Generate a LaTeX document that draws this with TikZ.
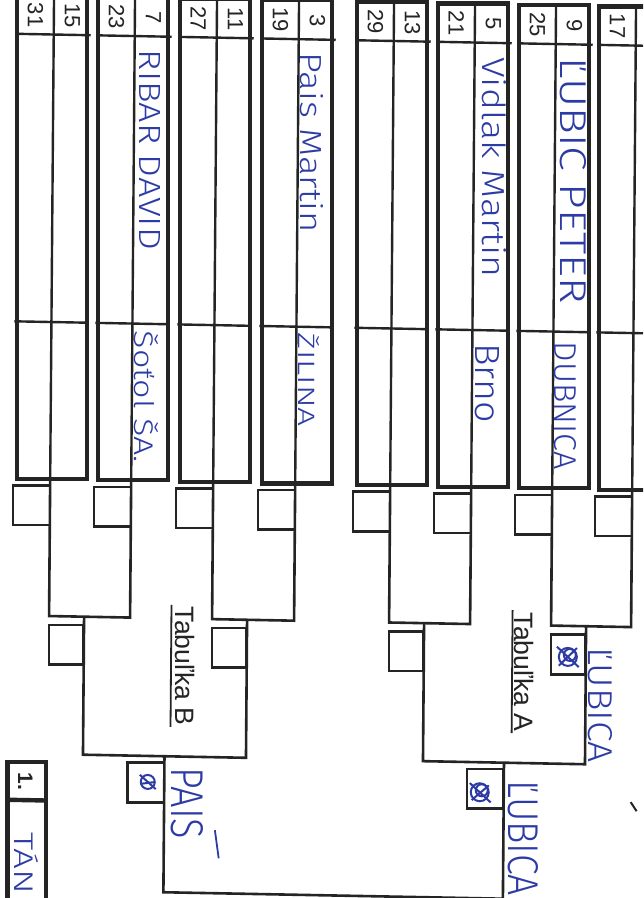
\documentclass[tikz,border=0pt]{standalone}
\usepackage{fontspec}
\setmainfont{Liberation Sans}
\newfontfamily\handfont{Fira Sans}[UprightFont={* Light}]
\usepackage{graphicx}
\definecolor{ink}{RGB}{36,36,36}
\definecolor{pen}{RGB}{45,60,165}
\newcommand\hw[3]{\resizebox{#1}{#2}{\handfont #3}}
\tikzset{
  thickframe/.style={draw=ink, line width=2.2pt},
  thinline/.style={draw=ink, line width=1.2pt},
  bracket/.style={draw=ink, line width=1.3pt, line join=miter},
  scorebox/.style={draw=ink, line width=1.3pt},
  seednum/.style={rotate=-90, font=\fontsize{11}{11}\selectfont, text=ink, inner sep=0pt},
  hand/.style={rotate=-90, text=pen, inner sep=0pt},
  tablabel/.style={rotate=-90, font=\fontsize{13.3}{14}\selectfont, text=ink, inner sep=0pt},
  scribble/.style={draw=pen, line width=1pt},
}
% #1 left x, #2 left seed, #3 right seed, #4 id
\newcommand\grp[4]{%
  \draw[thickframe] (#1,-5) rectangle ({#1+74},477);
  \draw[thinline] ({#1+37},-5) -- ({#1+37},477);
  \draw[thinline] (#1,33.5) -- ({#1+74},33.5);
  \draw[thinline] (#1,321) -- ({#1+74},321);
  \node[seednum] (n#4a) at ({#1+18.5},14.5) {#2};
  \node[seednum] (n#4b) at ({#1+55.5},14.5) {#3};
  \draw[scorebox] (#1,485) rectangle ({#1+37},524);
  \coordinate (m#4) at ({#1+37},477);
}
\begin{document}
\begin{tikzpicture}[x={(0.5pt,-0.0095pt)}, y={(-0.004pt,-0.5pt)}]
\useasboundingbox (0pt,0pt) rectangle (321.5pt,-449pt);
\clip (0pt,0pt) rectangle (321.5pt,-449pt);
\fill[white] (0pt,0pt) rectangle (321.5pt,-449pt);

% player groups
\grp{17}{31}{15}{1}
\grp{98}{23}{7}{2}
\grp{180}{27}{11}{3}
\grp{262}{19}{3}{4}
\grp{357}{29}{13}{5}
\grp{438}{21}{5}{6}
\grp{519}{25}{9}{7}
\grp{599}{17}{}{8}

% round 1 brackets
\draw[bracket] (m1) -- (54,615) -- (135,615) -- (m2);
\draw[bracket] (m3) -- (217,615) -- (299,615) -- (m4);
\draw[bracket] (m5) -- (394,615) -- (475,615) -- (m6);
\draw[bracket] (m7) -- (556,615) -- (636,615) -- (m8);

% round 2 boxes
\draw[scorebox] (54,624) rectangle (89,663);
\draw[scorebox] (217,624) rectangle (252,663);
\draw[scorebox] (394,624) rectangle (429,663);
\draw[scorebox] (556,624) rectangle (591,663);

% round 2 brackets
\coordinate (r2a) at (89,615);
\coordinate (r2b) at (252,615);
\coordinate (r2c) at (429,615);
\coordinate (r2d) at (591,615);
\draw[bracket] (r2a) -- (89,753) -- (252,753) -- (r2b);
\draw[bracket] (r2c) -- (429,753) -- (591,753) -- (r2d);

% round 3 boxes
\draw[scorebox] (133.5,760) rectangle (170.5,799);
\draw[scorebox] (473,760) rectangle (510,799);

% final bracket
\coordinate (r3a) at (170.5,753);
\coordinate (r3b) at (510,753);
\draw[bracket] (r3a) -- (170.5,889) -- (510,889) -- (r3b);

% labels
\node[tablabel] (tabB) at (190.3,662.5) {Tabuľka B};
\node[tablabel] (tabA) at (529.4,662) {Tabuľka A};
\draw[ink, line width=0.9pt] (176.3,601.5) -- (176.3,723.5);
\draw[ink, line width=0.9pt] (517.4,600.3) -- (517.4,723.3);

% final result box
\draw[thickframe] (13.5,761.5) rectangle (53.5,960);
\draw[thickframe] (13.5,799.5) -- (53.5,799.5);
\node[rotate=-90, font=\bfseries\fontsize{10.5}{11}\selectfont, text=ink, inner sep=0pt] (first) at (31.5,781) {1.};

% handwriting
\node[hand] (h7) at (151,147) {\hw{100pt}{10.5pt}{RIBAR DAVID}};
\node[hand] (c7) at (149,394) {\hw{66pt}{12pt}{Šoťol ŠA.}};
\node[hand] (h3) at (313,137) {\hw{90pt}{11.5pt}{Pais Martin}};
\node[hand] (c3) at (312,374) {\hw{47pt}{10.5pt}{ŽILINA}};
\node[hand] (h5) at (496,158) {\hw{110pt}{12pt}{Vidlak Martin}};
\node[hand] (c5) at (490,374) {\hw{40pt}{12pt}{Brno}};
\node[hand] (h9) at (574.5,170) {\hw{123pt}{13pt}{ĽUBIC PETER}};
\node[hand] (c9) at (568,395) {\hw{64pt}{11pt}{DUBNICA}};
\node[hand] (wB) at (194,799.5) {\hw{36pt}{16pt}{PAIS}};
\draw[draw=pen, line width=0.9pt] (221.5,826) -- (225.5,854);
\node[hand] (wA1) at (606,693.5) {\hw{58pt}{12pt}{ĽUBICA}};
\node[hand] (wA2) at (530,828) {\hw{58pt}{15pt}{ĽUBICA}};
\node[hand, anchor=west] (win) at (33,831) {\hw{31pt}{12pt}{TÁN}};

% scribbled marks in score boxes
\draw[scribble] (154,779) circle (7);
\draw[scribble] (146,772) -- (162,786);
\draw[scribble] (147,781) -- (161,779);
\draw[scribble] (573,646) circle (9);
\draw[scribble] (575,644) circle (6);
\draw[scribble] (562,636) -- (584,656);
\draw[scribble] (564,655) -- (582,637);
\draw[scribble] (486,783) circle (9);
\draw[scribble] (488,781) circle (6);
\draw[scribble] (476,774) -- (497,793);
\draw[scribble] (478,791) -- (495,776);

% pen mark
\draw[ink, line width=1pt] (637,790) -- (643,799);
\end{tikzpicture}
\end{document}
